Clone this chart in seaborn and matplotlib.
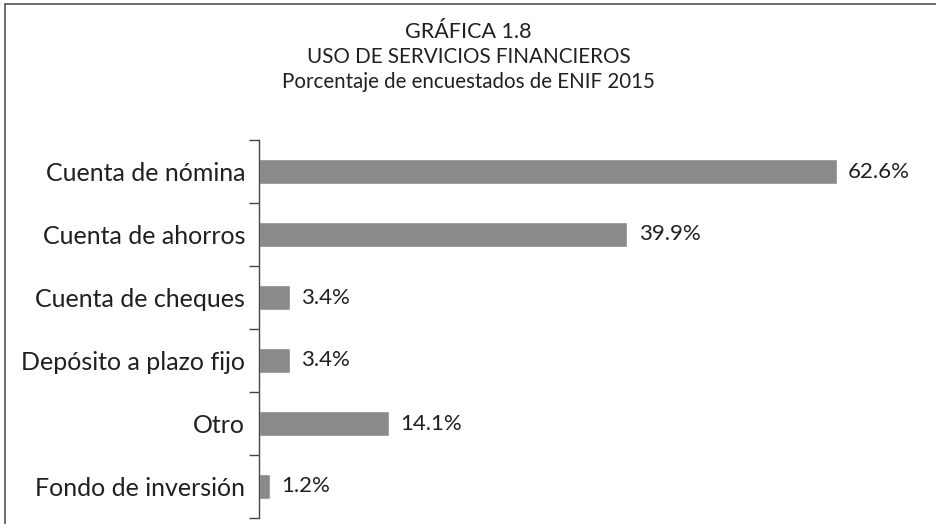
import matplotlib
matplotlib.use("Agg")
import matplotlib.pyplot as plt
from matplotlib.lines import Line2D
from matplotlib.ticker import FixedLocator
import pandas as pd
import seaborn as sns

categories = ["Cuenta de nómina", "Cuenta de ahorros", "Cuenta de cheques",
              "Depósito a plazo fijo", "Otro", "Fondo de inversión"]
values = [62.6, 39.9, 3.4, 3.4, 14.1, 1.2]
title_lines = ["GRÁFICA 1.8", "USO DE SERVICIOS FINANCIEROS",
               "Porcentaje de encuestados de ENIF 2015"]

BAR = "#8a8a8d"
INK = "#231f20"

sns.set_theme(style="white")
plt.rcParams["font.family"] = ["Lato", "DejaVu Sans"]

df = pd.DataFrame({"cat": categories, "val": values})

fig = plt.figure(figsize=(9.37, 5.24), dpi=100)
ax = fig.add_axes([259 / 937, 6 / 524, 0.68, 378 / 524])
sns.barplot(df, x="val", y="cat", color=BAR, saturation=1, width=0.4,
            orient="h", ax=ax)

for c in ax.containers:
    ax.bar_label(c, labels=[f"{v:.1f}%" for v in values], padding=8,
                 fontsize=16, color=INK)

ax.set_xlim(0, 69)
ax.set_ylim(len(categories) - 0.5, -0.5)
ax.set_xlabel("")
ax.set_ylabel("")
ax.set_xticks([])
ax.tick_params(axis="y", which="major", length=0, pad=10, labelsize=18,
               labelcolor=INK)
ax.yaxis.set_minor_locator(FixedLocator([i - 0.5 for i in range(len(categories) + 1)]))
ax.tick_params(axis="y", which="minor", length=7, width=1, color="#444444",
               left=True)
for s in ["top", "right", "bottom"]:
    ax.spines[s].set_visible(False)
ax.spines["left"].set_color("#444444")
ax.spines["left"].set_linewidth(1)

# titles (baseline-anchored)
fig.text(0.5, 1 - 38 / 524, title_lines[0], ha="center", va="baseline",
         fontsize=15.5, color=INK)
fig.text(0.5, 1 - 63 / 524, title_lines[1], ha="center", va="baseline",
         fontsize=14.9, color=INK)
fig.text(0.5, 1 - 88 / 524, title_lines[2], ha="center", va="baseline",
         fontsize=14.8, color=INK)

# frame (top and left)
fig.add_artist(Line2D([5 / 937, 1], [1 - 4 / 524, 1 - 4 / 524],
                      transform=fig.transFigure, color="#555555", lw=1.2))
fig.add_artist(Line2D([5 / 937, 5 / 937], [0, 1 - 4 / 524],
                      transform=fig.transFigure, color="#555555", lw=1.2))

fig.savefig("out.png", dpi=100, facecolor="white")
